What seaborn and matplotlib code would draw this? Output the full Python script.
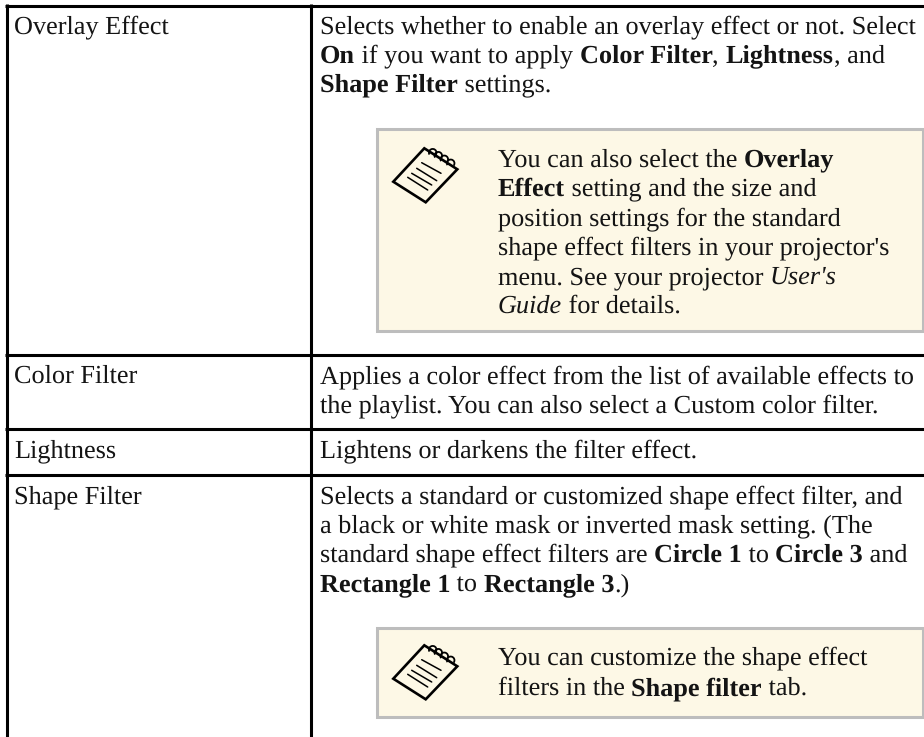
import re
import matplotlib
matplotlib.use("Agg")
import matplotlib.pyplot as plt
from matplotlib.patches import Rectangle, Polygon, Arc
import seaborn as sns

row_labels = ["Overlay Effect", "Color Filter", "Lightness", "Shape Filter"]
overlay_desc = ["Selects whether to enable an overlay effect or not. Select",
                "**On** if you want to apply **Color Filter**, **Lightness**, and",
                "**Shape Filter** settings."]
overlay_note = ["You can also select the **Overlay**",
                "**Effect** setting and the size and",
                "position settings for the standard",
                "shape effect filters in your projector's",
                "menu. See your projector *User's*",
                "*Guide* for details."]
color_desc = ["Applies a color effect from the list of available effects to",
              "the playlist. You can also select a Custom color filter."]
light_desc = ["Lightens or darkens the filter effect."]
shape_desc = ["Selects a standard or customized shape effect filter, and",
              "a black or white mask or inverted mask setting. (The",
              "standard shape effect filters are **Circle 1** to **Circle 3** and",
              "**Rectangle 1** to **Rectangle 3**.)"]
shape_note = ["You can customize the shape effect",
              "filters in the **Shape filter** tab."]

W, H = 924, 737
FONT = "Liberation Serif"
FS = 18.95
INK = "#141414"
sns.set_theme(style="white")
plt.rcParams["font.family"] = [FONT, "DejaVu Serif"]
plt.rcParams["text.hinting"] = "none"

fig = plt.figure(figsize=(W / 100, H / 100), dpi=100, facecolor="white")
ax = fig.add_axes([0, 0, 1, 1])
ax.set_xlim(0, W)
ax.set_ylim(H, 0)
ax.axis("off")
renderer = fig.canvas.get_renderer()


def draw_line(x, y, markup):
    for part in re.split(r"(\*\*.+?\*\*|\*.+?\*)", markup):
        if not part:
            continue
        weight, style = "normal", "normal"
        if part.startswith("**"):
            part, weight = part[2:-2], "bold"
        elif part.startswith("*"):
            part, style = part[1:-1], "italic"
        ax.text(x, y, part, fontsize=FS, weight=weight, style=style,
                color=INK, va="baseline", ha="left")
        probe = ax.text(0, 0, part + "|", fontsize=FS, weight=weight, style=style)
        bar = ax.text(0, 0, "|", fontsize=FS, weight=weight, style=style)
        x += probe.get_window_extent(renderer).width - bar.get_window_extent(renderer).width
        probe.remove()
        bar.remove()


def draw_block(x, baselines, lines):
    for y, line in zip(baselines, lines):
        draw_line(x, y, line)


def draw_icon(dy):
    body = [(424.3, 148.3), (457.3, 169.3), (425.7, 202.3), (393.3, 181.7)]
    ax.add_patch(Polygon([(a, b + dy) for a, b in body], closed=True,
                         fc="none", ec="black", lw=1.9, joinstyle="miter", zorder=4))
    rules = [((421.7, 162.7), (441, 173.3)), ((416.7, 168.3), (436.7, 180.7)),
             ((411.7, 173.3), (431.7, 185)), ((407.7, 177.3), (427.7, 190))]
    for (a, b), (c, d) in rules:
        ax.plot([a, c], [b + dy, d + dy], color="black", lw=1.1, zorder=4)
    for cx, cy in ((432.7, 152.7), (438.3, 155.7), (444.3, 159.3), (450.7, 163.3)):
        ax.add_patch(Arc((cx, cy + dy), 7.5, 7.5, angle=0, theta1=150, theta2=400,
                         color="black", lw=1.3, zorder=5))


def draw_note(top, bottom):
    ax.add_patch(Rectangle((376.5, top + 1.5), W - 376.5 - 1.5, bottom - top - 3,
                           fc="#fdf8e6", ec="#bdbdbd", lw=2.2, zorder=1))


# rules
for y in (5.5, 354.5, 428.5, 474.5):
    ax.plot([5, W], [y, y], color="black", lw=2.2, solid_capstyle="butt", zorder=3)
for x in (6.5, 310.5):
    ax.plot([x, x], [4, H], color="black", lw=2.2, solid_capstyle="butt", zorder=3)

# left column
for y, label in zip((33, 383, 457, 503), row_labels):
    draw_line(14, y, label)

# right column
draw_block(320, (33, 62.5, 91.5), overlay_desc)
draw_note(127, 332)
draw_block(498, (166.5, 195.5, 225, 254.5, 284, 313), overlay_note)
draw_icon(0)

draw_block(320, (383, 412), color_desc)
draw_block(320, (457,), light_desc)
draw_block(320, (503, 532, 561.5, 591), shape_desc)
draw_note(626, 718)
draw_block(498, (664.5, 695), shape_note)
draw_icon(497)

fig.savefig("out.png", dpi=100)
